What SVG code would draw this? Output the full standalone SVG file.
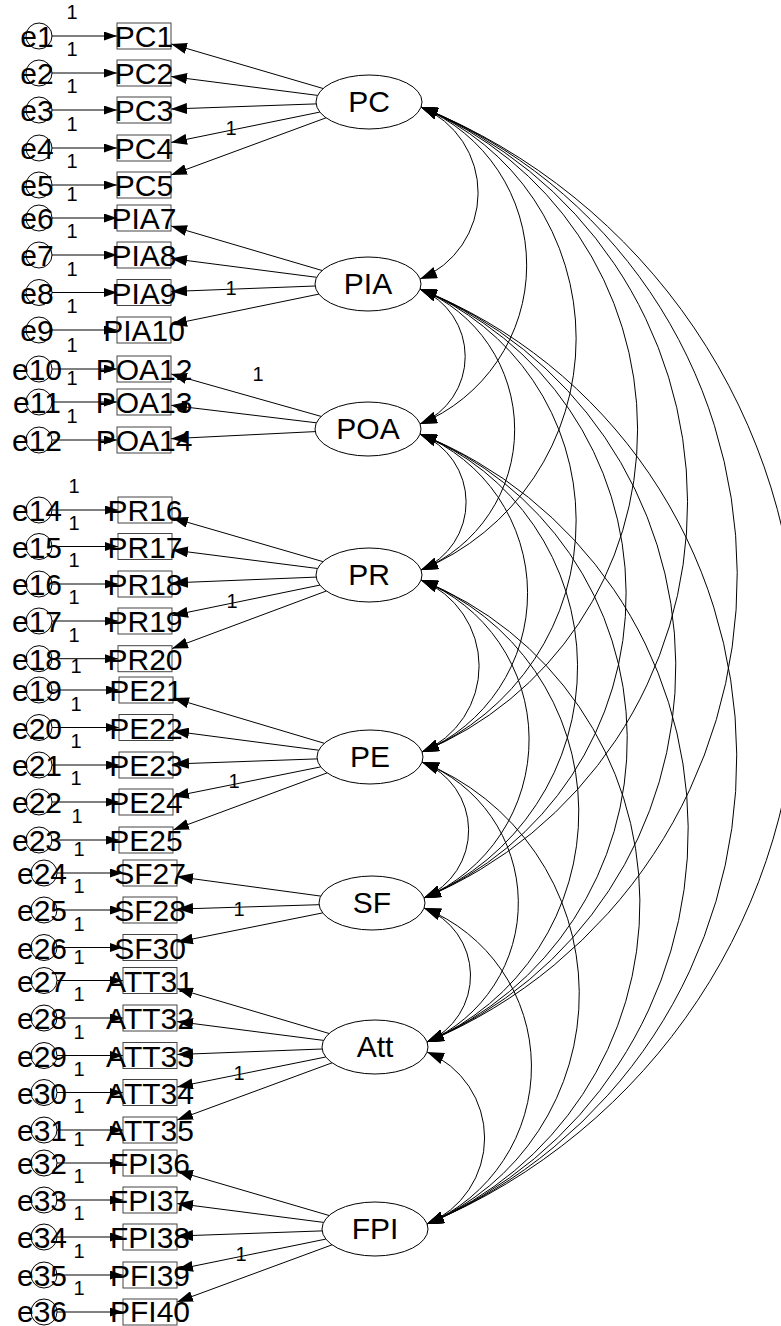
<svg xmlns="http://www.w3.org/2000/svg" width="781" height="1326" viewBox="0 0 781 1326">
<defs>
<marker id="ah" markerUnits="userSpaceOnUse" viewBox="0 0 13 9" refX="13" refY="4.5" markerWidth="13" markerHeight="9" orient="auto-start-reverse"><path d="M0,0 L13,4.5 L0,9 Z" fill="#000"/></marker>
<marker id="al" markerUnits="userSpaceOnUse" viewBox="0 0 16 11" refX="16" refY="5.5" markerWidth="16" markerHeight="11" orient="auto-start-reverse"><path d="M0,0 L16,5.5 L0,11 Z" fill="#000"/></marker>
<marker id="ac" markerUnits="userSpaceOnUse" viewBox="0 0 17 12" refX="17" refY="6" markerWidth="17" markerHeight="12" orient="auto-start-reverse"><path d="M0,0 L17,6 L0,12 Z" fill="#000"/></marker>
</defs>
<style>
.t{font-family:"Liberation Sans",Arial,sans-serif;font-size:30px;fill:#000;text-anchor:middle}
.s{font-family:"Liberation Sans",Arial,sans-serif;font-size:20px;fill:#000;text-anchor:middle}
.box{fill:none;stroke:#444;stroke-width:1}
.lat{fill:#fff;stroke:#000;stroke-width:1}
.err{fill:none;stroke:#000;stroke-width:1}
.ln{fill:none;stroke:#000;stroke-width:1;marker-end:url(#ah)}
.ld{fill:none;stroke:#000;stroke-width:1;marker-end:url(#al)}
.cv{fill:none;stroke:#000;stroke-width:1;marker-start:url(#ac);marker-end:url(#ac)}
</style>
<rect width="781" height="1326" fill="#fff"/>
<g id="connectors">
<path class="ln" d="M52,36H117"/><path class="ln" d="M52,73H117"/><path class="ln" d="M52,110H117"/><path class="ln" d="M52,148H117"/><path class="ln" d="M52,185H117"/>
<path class="ln" d="M52,218H117"/><path class="ln" d="M52,255H117"/><path class="ln" d="M52,292.5H117"/><path class="ln" d="M52,330H117"/>
<path class="ln" d="M52,369H117"/><path class="ln" d="M52,402H117"/><path class="ln" d="M52,440H117"/>
<path class="ln" d="M52,510H118"/><path class="ln" d="M52,546.5H118"/><path class="ln" d="M52,584H118"/><path class="ln" d="M52,621H118"/><path class="ln" d="M52,658.7H118"/>
<path class="ln" d="M52,690H119"/><path class="ln" d="M52,727.5H119"/><path class="ln" d="M52,765H119"/><path class="ln" d="M52,802H119"/><path class="ln" d="M52,840H119"/>
<path class="ln" d="M57,873H123"/><path class="ln" d="M57,910H123"/><path class="ln" d="M57,947.5H123"/>
<path class="ln" d="M57,980.5H123"/><path class="ln" d="M57,1018H123"/><path class="ln" d="M57,1055.5H123"/><path class="ln" d="M57,1092.5H123"/><path class="ln" d="M57,1130H123"/>
<path class="ln" d="M57,1163H123"/><path class="ln" d="M57,1200H123"/><path class="ln" d="M57,1237H123"/><path class="ln" d="M57,1275H123"/><path class="ln" d="M57,1312H123"/>
<path class="ld" d="M323.1,88.5L171,43.9"/><path class="ld" d="M317.6,95.4L171,76.5"/><path class="ld" d="M316.1,103.9L171,109"/><path class="ld" d="M319.8,112.1L171,142.5"/><path class="ld" d="M326.1,117.8L171,175"/>
<path class="ld" d="M322.1,270.5L171,226"/><path class="ld" d="M316.6,277.3L171,258.5"/><path class="ld" d="M315.1,286L171,291.5"/><path class="ld" d="M318.9,294.1L171,324.5"/>
<path class="ld" d="M321.1,416.4L171,374"/><path class="ld" d="M316.4,422.8L171,405.3"/><path class="ld" d="M315.2,431.6L171,438.7"/>
<path class="ld" d="M322.9,561.6L172,517.8"/><path class="ld" d="M317.6,568.5L172,549.9"/><path class="ld" d="M316.2,577.1L172,582.9"/><path class="ld" d="M319.9,585.1L172,615.5"/><path class="ld" d="M326.3,591L172,648.6"/>
<path class="ld" d="M324.3,743.3L173,698.1"/><path class="ld" d="M318.7,750.2L173,731.1"/><path class="ld" d="M317.1,758.9L173,764"/><path class="ld" d="M320.7,766.9L173,796.6"/><path class="ld" d="M327.1,772.9L173,830"/>
<path class="ld" d="M320.8,896.1L177,876.6"/><path class="ld" d="M319.1,904.7L177,909.1"/><path class="ld" d="M322.7,912.9L177,942.1"/>
<path class="ld" d="M329.2,1033.5L177,988.5"/><path class="ld" d="M323.6,1040.4L177,1021.5"/><path class="ld" d="M322.1,1049L177,1054.5"/><path class="ld" d="M325.7,1057L177,1087"/><path class="ld" d="M332.1,1062.8L177,1120"/>
<path class="ld" d="M329.1,1215.5L177,1170.9"/><path class="ld" d="M323.6,1222.4L177,1203.5"/><path class="ld" d="M322.1,1230.9L177,1236"/><path class="ld" d="M325.8,1239.1L177,1269.5"/><path class="ld" d="M332.1,1244.8L177,1302"/>
<path class="cv" d="M421,107A93,93 0 0 1 420,279"/>
<path class="cv" d="M421,107A171.4,171.4 0 0 1 420,424"/>
<path class="cv" d="M421,107A250.3,250.3 0 0 1 421,570"/>
<path class="cv" d="M421,107A348.7,348.7 0 0 1 422,752"/>
<path class="cv" d="M421,107A427.6,427.6 0 0 1 424,898"/>
<path class="cv" d="M421,107A505.5,505.5 0 0 1 427,1042"/>
<path class="cv" d="M421,107A603.9,603.9 0 0 1 427,1224"/>
<path class="cv" d="M420,289A73,73 0 0 1 420,424"/>
<path class="cv" d="M420,289A151.9,151.9 0 0 1 421,570"/>
<path class="cv" d="M420,289A250.3,250.3 0 0 1 422,752"/>
<path class="cv" d="M420,289A329.2,329.2 0 0 1 424,898"/>
<path class="cv" d="M420,289A407.1,407.1 0 0 1 427,1042"/>
<path class="cv" d="M420,289A505.5,505.5 0 0 1 427,1224"/>
<path class="cv" d="M420,434A73.5,73.5 0 0 1 421,570"/>
<path class="cv" d="M420,434A171.9,171.9 0 0 1 422,752"/>
<path class="cv" d="M420,434A250.8,250.8 0 0 1 424,898"/>
<path class="cv" d="M420,434A328.7,328.7 0 0 1 427,1042"/>
<path class="cv" d="M420,434A427.1,427.1 0 0 1 427,1224"/>
<path class="cv" d="M421,580A93,93 0 0 1 422,752"/>
<path class="cv" d="M421,580A171.9,171.9 0 0 1 424,898"/>
<path class="cv" d="M421,580A249.8,249.8 0 0 1 427,1042"/>
<path class="cv" d="M421,580A348.1,348.1 0 0 1 427,1224"/>
<path class="cv" d="M422,762A73.5,73.5 0 0 1 424,898"/>
<path class="cv" d="M422,762A151.4,151.4 0 0 1 427,1042"/>
<path class="cv" d="M422,762A249.8,249.8 0 0 1 427,1224"/>
<path class="cv" d="M424,908A72.4,72.4 0 0 1 427,1042"/>
<path class="cv" d="M424,908A170.8,170.8 0 0 1 427,1224"/>
<path class="cv" d="M427,1052A93,93 0 0 1 427,1224"/>
<g id="weights">
<text class="s" x="72" y="19">1</text><text class="s" x="72" y="56">1</text><text class="s" x="72" y="93">1</text><text class="s" x="72" y="131">1</text><text class="s" x="72" y="168">1</text>
<text class="s" x="72" y="201">1</text><text class="s" x="72" y="238">1</text><text class="s" x="72" y="275.5">1</text><text class="s" x="72" y="313">1</text>
<text class="s" x="72" y="352">1</text><text class="s" x="72" y="385">1</text><text class="s" x="72" y="423">1</text>
<text class="s" x="74" y="493">1</text><text class="s" x="74" y="529.5">1</text><text class="s" x="74" y="567">1</text><text class="s" x="74" y="604">1</text><text class="s" x="74" y="641.7">1</text>
<text class="s" x="76" y="673">1</text><text class="s" x="76" y="710.5">1</text><text class="s" x="76" y="748">1</text><text class="s" x="76" y="785">1</text><text class="s" x="77" y="823">1</text>
<text class="s" x="79" y="856">1</text><text class="s" x="79" y="893">1</text><text class="s" x="79" y="930.5">1</text>
<text class="s" x="79" y="963.5">1</text><text class="s" x="79" y="1001">1</text><text class="s" x="79" y="1038.5">1</text><text class="s" x="79" y="1075.5">1</text><text class="s" x="79" y="1113">1</text>
<text class="s" x="79" y="1146">1</text><text class="s" x="79" y="1183">1</text><text class="s" x="79" y="1220">1</text><text class="s" x="79" y="1258">1</text><text class="s" x="79" y="1295">1</text>
<text class="s" x="231" y="135">1</text><text class="s" x="231" y="295">1</text><text class="s" x="258" y="381">1</text><text class="s" x="232" y="608">1</text>
<text class="s" x="234" y="788">1</text><text class="s" x="239" y="916">1</text><text class="s" x="239" y="1080">1</text><text class="s" x="241" y="1261">1</text>
</g>
</g>
<g id="PC"><ellipse class="lat" cx="369" cy="102" rx="53" ry="27"/><text class="t" x="369" y="112">PC</text></g>
<g id="PIA"><ellipse class="lat" cx="368" cy="284" rx="53" ry="27"/><text class="t" x="368" y="294">PIA</text></g>
<g id="POA"><ellipse class="lat" cx="368" cy="429" rx="53" ry="27"/><text class="t" x="368" y="439">POA</text></g>
<g id="PR"><ellipse class="lat" cx="369" cy="575" rx="53" ry="27"/><text class="t" x="369" y="585">PR</text></g>
<g id="PE"><ellipse class="lat" cx="370" cy="757" rx="53" ry="27"/><text class="t" x="370" y="767">PE</text></g>
<g id="SF"><ellipse class="lat" cx="372" cy="903" rx="53" ry="27"/><text class="t" x="372" y="913">SF</text></g>
<g id="Att"><ellipse class="lat" cx="375" cy="1047" rx="53" ry="27"/><text class="t" x="375" y="1057">Att</text></g>
<g id="FPI"><ellipse class="lat" cx="375" cy="1229" rx="53" ry="27"/><text class="t" x="375" y="1239">FPI</text></g>
<g id="PC1"><rect class="box" x="117" y="23" width="54" height="26"/><text class="t" x="144" y="47">PC1</text></g>
<g id="PC2"><rect class="box" x="117" y="60" width="54" height="26"/><text class="t" x="144" y="84">PC2</text></g>
<g id="PC3"><rect class="box" x="117" y="97" width="54" height="26"/><text class="t" x="144" y="121">PC3</text></g>
<g id="PC4"><rect class="box" x="117" y="135" width="54" height="26"/><text class="t" x="144" y="159">PC4</text></g>
<g id="PC5"><rect class="box" x="117" y="172" width="54" height="26"/><text class="t" x="144" y="196">PC5</text></g>
<g id="PIA7"><rect class="box" x="117" y="205" width="54" height="26"/><text class="t" x="144" y="229">PIA7</text></g>
<g id="PIA8"><rect class="box" x="117" y="242" width="54" height="26"/><text class="t" x="144" y="266">PIA8</text></g>
<g id="PIA9"><rect class="box" x="117" y="279.5" width="54" height="26"/><text class="t" x="144" y="303.5">PIA9</text></g>
<g id="PIA10"><rect class="box" x="117" y="317" width="54" height="26"/><text class="t" x="144" y="341">PIA10</text></g>
<g id="POA12"><rect class="box" x="117" y="356" width="54" height="26"/><text class="t" x="144" y="380">POA12</text></g>
<g id="POA13"><rect class="box" x="117" y="389" width="54" height="26"/><text class="t" x="144" y="413">POA13</text></g>
<g id="POA14"><rect class="box" x="117" y="427" width="54" height="26"/><text class="t" x="144" y="451">POA14</text></g>
<g id="PR16"><rect class="box" x="118" y="497" width="54" height="26"/><text class="t" x="145" y="521">PR16</text></g>
<g id="PR17"><rect class="box" x="118" y="533.5" width="54" height="26"/><text class="t" x="145" y="557.5">PR17</text></g>
<g id="PR18"><rect class="box" x="118" y="571" width="54" height="26"/><text class="t" x="145" y="595">PR18</text></g>
<g id="PR19"><rect class="box" x="118" y="608" width="54" height="26"/><text class="t" x="145" y="632">PR19</text></g>
<g id="PR20"><rect class="box" x="118" y="645.7" width="54" height="26"/><text class="t" x="145" y="669.7">PR20</text></g>
<g id="PE21"><rect class="box" x="119" y="677" width="54" height="26"/><text class="t" x="146" y="701">PE21</text></g>
<g id="PE22"><rect class="box" x="119" y="714.5" width="54" height="26"/><text class="t" x="146" y="738.5">PE22</text></g>
<g id="PE23"><rect class="box" x="119" y="752" width="54" height="26"/><text class="t" x="146" y="776">PE23</text></g>
<g id="PE24"><rect class="box" x="119" y="789" width="54" height="26"/><text class="t" x="146" y="813">PE24</text></g>
<g id="PE25"><rect class="box" x="119" y="827" width="54" height="26"/><text class="t" x="146" y="851">PE25</text></g>
<g id="SF27"><rect class="box" x="123" y="860" width="54" height="26"/><text class="t" x="150" y="884">SF27</text></g>
<g id="SF28"><rect class="box" x="123" y="897" width="54" height="26"/><text class="t" x="150" y="921">SF28</text></g>
<g id="SF30"><rect class="box" x="123" y="934.5" width="54" height="26"/><text class="t" x="150" y="958.5">SF30</text></g>
<g id="ATT31"><rect class="box" x="123" y="967.5" width="54" height="26"/><text class="t" x="150" y="991.5">ATT31</text></g>
<g id="ATT32"><rect class="box" x="123" y="1005" width="54" height="26"/><text class="t" x="150" y="1029">ATT32</text></g>
<g id="ATT33"><rect class="box" x="123" y="1042.5" width="54" height="26"/><text class="t" x="150" y="1066.5">ATT33</text></g>
<g id="ATT34"><rect class="box" x="123" y="1079.5" width="54" height="26"/><text class="t" x="150" y="1103.5">ATT34</text></g>
<g id="ATT35"><rect class="box" x="123" y="1117" width="54" height="26"/><text class="t" x="150" y="1141">ATT35</text></g>
<g id="FPI36"><rect class="box" x="123" y="1150" width="54" height="26"/><text class="t" x="150" y="1174">FPI36</text></g>
<g id="FPI37"><rect class="box" x="123" y="1187" width="54" height="26"/><text class="t" x="150" y="1211">FPI37</text></g>
<g id="FPI38"><rect class="box" x="123" y="1224" width="54" height="26"/><text class="t" x="150" y="1248">FPI38</text></g>
<g id="PFI39"><rect class="box" x="123" y="1262" width="54" height="26"/><text class="t" x="150" y="1286">PFI39</text></g>
<g id="PFI40"><rect class="box" x="123" y="1299" width="54" height="26"/><text class="t" x="150" y="1322">PFI40</text></g>
<g id="e1"><circle class="err" cx="39" cy="36" r="13"/><text class="t" x="37" y="47">e1</text></g>
<g id="e2"><circle class="err" cx="39" cy="73" r="13"/><text class="t" x="37" y="84">e2</text></g>
<g id="e3"><circle class="err" cx="39" cy="110" r="13"/><text class="t" x="37" y="121">e3</text></g>
<g id="e4"><circle class="err" cx="39" cy="148" r="13"/><text class="t" x="37" y="159">e4</text></g>
<g id="e5"><circle class="err" cx="39" cy="185" r="13"/><text class="t" x="37" y="196">e5</text></g>
<g id="e6"><circle class="err" cx="39" cy="218" r="13"/><text class="t" x="37" y="229">e6</text></g>
<g id="e7"><circle class="err" cx="39" cy="255" r="13"/><text class="t" x="37" y="266">e7</text></g>
<g id="e8"><circle class="err" cx="39" cy="292.5" r="13"/><text class="t" x="37" y="303.5">e8</text></g>
<g id="e9"><circle class="err" cx="39" cy="330" r="13"/><text class="t" x="37" y="341">e9</text></g>
<g id="e10"><circle class="err" cx="39" cy="369" r="13"/><text class="t" x="37" y="380">e10</text></g>
<g id="e11"><circle class="err" cx="39" cy="402" r="13"/><text class="t" x="37" y="413">e11</text></g>
<g id="e12"><circle class="err" cx="39" cy="440" r="13"/><text class="t" x="37" y="451">e12</text></g>
<g id="e14"><circle class="err" cx="39" cy="510" r="13"/><text class="t" x="37" y="521">e14</text></g>
<g id="e15"><circle class="err" cx="39" cy="546.5" r="13"/><text class="t" x="37" y="557.5">e15</text></g>
<g id="e16"><circle class="err" cx="39" cy="584" r="13"/><text class="t" x="37" y="595">e16</text></g>
<g id="e17"><circle class="err" cx="39" cy="621" r="13"/><text class="t" x="37" y="632">e17</text></g>
<g id="e18"><circle class="err" cx="39" cy="658.7" r="13"/><text class="t" x="37" y="669.7">e18</text></g>
<g id="e19"><circle class="err" cx="39" cy="690" r="13"/><text class="t" x="37" y="701">e19</text></g>
<g id="e20"><circle class="err" cx="39" cy="727.5" r="13"/><text class="t" x="37" y="738.5">e20</text></g>
<g id="e21"><circle class="err" cx="39" cy="765" r="13"/><text class="t" x="37" y="776">e21</text></g>
<g id="e22"><circle class="err" cx="39" cy="802" r="13"/><text class="t" x="37" y="813">e22</text></g>
<g id="e23"><circle class="err" cx="39" cy="840" r="13"/><text class="t" x="37" y="851">e23</text></g>
<g id="e24"><circle class="err" cx="44" cy="873" r="13"/><text class="t" x="42" y="884">e24</text></g>
<g id="e25"><circle class="err" cx="44" cy="910" r="13"/><text class="t" x="42" y="921">e25</text></g>
<g id="e26"><circle class="err" cx="44" cy="947.5" r="13"/><text class="t" x="42" y="958.5">e26</text></g>
<g id="e27"><circle class="err" cx="44" cy="980.5" r="13"/><text class="t" x="42" y="991.5">e27</text></g>
<g id="e28"><circle class="err" cx="44" cy="1018" r="13"/><text class="t" x="42" y="1029">e28</text></g>
<g id="e29"><circle class="err" cx="44" cy="1055.5" r="13"/><text class="t" x="42" y="1066.5">e29</text></g>
<g id="e30"><circle class="err" cx="44" cy="1092.5" r="13"/><text class="t" x="42" y="1103.5">e30</text></g>
<g id="e31"><circle class="err" cx="44" cy="1130" r="13"/><text class="t" x="42" y="1141">e31</text></g>
<g id="e32"><circle class="err" cx="44" cy="1163" r="13"/><text class="t" x="42" y="1174">e32</text></g>
<g id="e33"><circle class="err" cx="44" cy="1200" r="13"/><text class="t" x="42" y="1211">e33</text></g>
<g id="e34"><circle class="err" cx="44" cy="1237" r="13"/><text class="t" x="42" y="1248">e34</text></g>
<g id="e35"><circle class="err" cx="44" cy="1275" r="13"/><text class="t" x="42" y="1286">e35</text></g>
<g id="e36"><circle class="err" cx="44" cy="1312" r="13"/><text class="t" x="42" y="1322">e36</text></g>
</svg>
